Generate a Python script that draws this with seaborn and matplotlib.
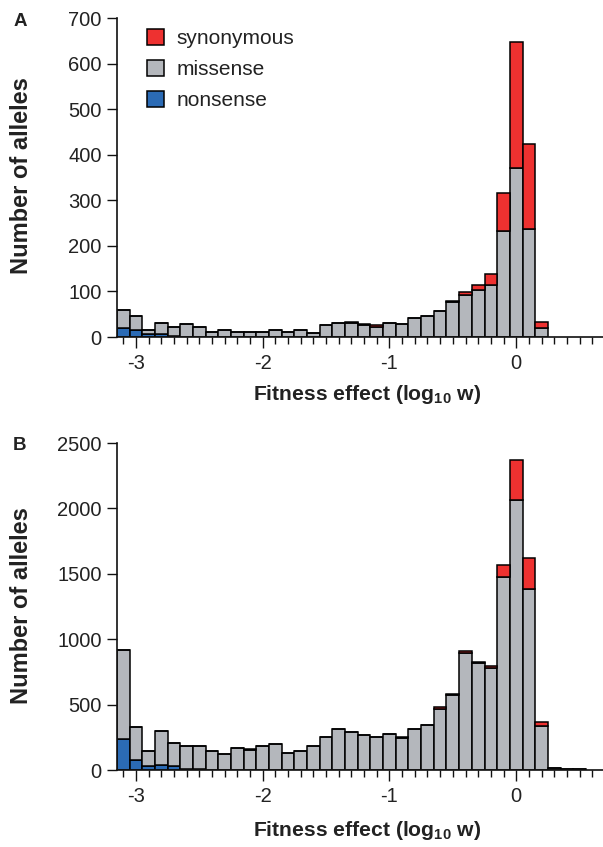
#!/usr/bin/env python3
"""Stacked histograms of allele fitness effects (two panels)."""
import numpy as np
import pandas as pd
import matplotlib
matplotlib.use('Agg')
import matplotlib.pyplot as plt
from matplotlib.ticker import MultipleLocator
import seaborn as sns

# bin centres (log10 w), 0.1 wide
bin_centers = [-3.1, -3.0, -2.9, -2.8, -2.7, -2.6, -2.5, -2.4, -2.3, -2.2,
               -2.1, -2.0, -1.9, -1.8, -1.7, -1.6, -1.5, -1.4, -1.3, -1.2,
               -1.1, -1.0, -0.9, -0.8, -0.7, -0.6, -0.5, -0.4, -0.3, -0.2,
               -0.1, 0.0, 0.1, 0.2, 0.3, 0.4, 0.5]

# panel A (34 bins, -3.1 .. 0.2)
a_synonymous = [0, 0, 0, 0, 0, 0, 1, 0, 0, 0,
                2, 0, 0, 0, 0, 0, 0, 0, 2, 3,
                3, 0, 0, 0, 0, 0, 3, 6, 10, 24,
                83, 276, 187, 15]
a_missense = [40, 31, 8, 25, 21, 27, 22, 12, 16, 12,
              10, 12, 16, 12, 16, 9, 27, 31, 31, 26,
              23, 31, 28, 42, 46, 57, 77, 93, 104, 115,
              232, 371, 236, 19]
a_nonsense = [20, 15, 7, 6, 2, 1, 0, 0, 0, 0,
              0, 0, 0, 0, 0, 0, 0, 0, 0, 0,
              0, 0, 0, 0, 0, 0, 0, 0, 0, 0,
              0, 0, 0, 0]

# panel B (37 bins, -3.1 .. 0.5)
b_synonymous = [0, 0, 0, 0, 0, 0, 0, 0, 0, 0,
                5, 0, 3, 0, 0, 0, 0, 0, 4, 5,
                0, 0, 5, 0, 0, 8, 6, 9, 8, 16,
                91, 301, 240, 28, 4, 2, 2]
b_missense = [682, 255, 115, 258, 181, 171, 177, 143, 120, 171,
              156, 184, 196, 133, 143, 184, 250, 314, 287, 266,
              253, 278, 248, 314, 345, 470, 574, 897, 819, 781,
              1479, 2066, 1384, 340, 14, 6, 4]
b_nonsense = [235, 74, 28, 41, 28, 10, 4, 0, 0, 0,
              0, 0, 0, 0, 0, 0, 0, 0, 0, 0,
              0, 0, 0, 0, 0, 0, 0, 0, 0, 0,
              0, 0, 0, 0, 0, 0, 0]

classes = ['synonymous', 'missense', 'nonsense']
palette = {'synonymous': '#EE3130', 'missense': '#B4B7BC', 'nonsense': '#2B6BB5'}


def long_table(syn, mis, non):
    n = len(mis)
    rows = []
    for cls, vals in zip(classes, [syn, mis, non]):
        for x, v in zip(bin_centers[:n], vals):
            rows.append({'effect': x, 'count': v, 'class': cls})
    return pd.DataFrame(rows)


dfA = long_table(a_synonymous, a_missense, a_nonsense)
dfB = long_table(b_synonymous, b_missense, b_nonsense)

sns.set_style('ticks')
plt.rcParams['font.family'] = ['Liberation Sans', 'DejaVu Sans']
plt.rcParams['axes.unicode_minus'] = False
plt.rcParams['mathtext.fontset'] = 'custom'
plt.rcParams['mathtext.rm'] = 'Liberation Sans'
plt.rcParams['mathtext.bf'] = 'Liberation Sans:bold'

W, H = 603, 847
fig = plt.figure(figsize=(W / 100, H / 100), dpi=100)
axA = fig.add_axes([117 / W, 510 / H, 486 / W, 319 / H])
axB = fig.add_axes([117 / W, 77 / H, 486 / W, 327 / H])

panels = [(axA, dfA, 34, 700, 100), (axB, dfB, 37, 2500, 500)]
for ax, df, nb, ymax, ystep in panels:
    edges = list(np.linspace(-3.15, -3.15 + 0.1 * nb, nb + 1))
    sns.histplot(data=df, x='effect', weights='count', hue='class',
                 hue_order=classes, palette=palette, multiple='stack',
                 bins=edges, edgecolor='black', linewidth=1.1, alpha=1,
                 ax=ax, legend=(ax is axA))
    ax.set_xlim(-3.15, 0.685)
    ax.set_ylim(0, ymax)
    ax.set_xticks([-3, -2, -1, 0])
    ax.set_xticklabels(['-3', '-2', '-1', '0'])
    ax.xaxis.set_minor_locator(MultipleLocator(0.1))
    ax.set_yticks(np.arange(0, ymax + 1, ystep))
    ax.set_xlabel('')
    ax.set_ylabel('')
    ax.tick_params(axis='both', which='major', labelsize=14.5, width=1.0,
                   color='#111111', labelcolor='#222222')
    ax.tick_params(axis='x', which='major', length=8, pad=4)
    ax.tick_params(axis='x', which='minor', length=5, width=1.0, color='#111111')
    ax.tick_params(axis='y', which='major', length=7, pad=4)
    for side in ['top', 'right']:
        ax.spines[side].set_visible(False)
    for side in ['left', 'bottom']:
        ax.spines[side].set_linewidth(1.2)
        ax.spines[side].set_color('#111111')

sns.move_legend(axA, 'upper left', bbox_to_anchor=(0.062, 0.966), frameon=False,
                title=None, fontsize=15, handlelength=0.8, handleheight=0.8,
                handletextpad=0.6, labelspacing=0.56, borderpad=0, borderaxespad=0)
for t in axA.get_legend().get_texts():
    t.set_color('#222222')

# panel letters and axis labels
xlab = 'Fitness effect (log$_{\\mathbf{10}}$ w)'
fig.text(20 / W, 1 - 21 / H, 'A', fontsize=13.5, fontweight='bold', ha='center', va='center', color='#222222')
fig.text(20 / W, 1 - 445 / H, 'B', fontsize=13.5, fontweight='bold', ha='center', va='center', color='#222222')
fig.text(22 / W, 1 - 176 / H, 'Number of alleles', rotation=90, fontsize=17,
         fontweight='bold', ha='center', va='center', color='#222222')
fig.text(22 / W, 1 - 606 / H, 'Number of alleles', rotation=90, fontsize=17,
         fontweight='bold', ha='center', va='center', color='#222222')
fig.text(367 / W, 1 - 394 / H, xlab, fontsize=15.2, fontweight='bold',
         ha='center', va='center', color='#222222')
fig.text(367 / W, 1 - 830 / H, xlab, fontsize=15.2, fontweight='bold',
         ha='center', va='center', color='#222222')

fig.savefig('out.png', dpi=100)
